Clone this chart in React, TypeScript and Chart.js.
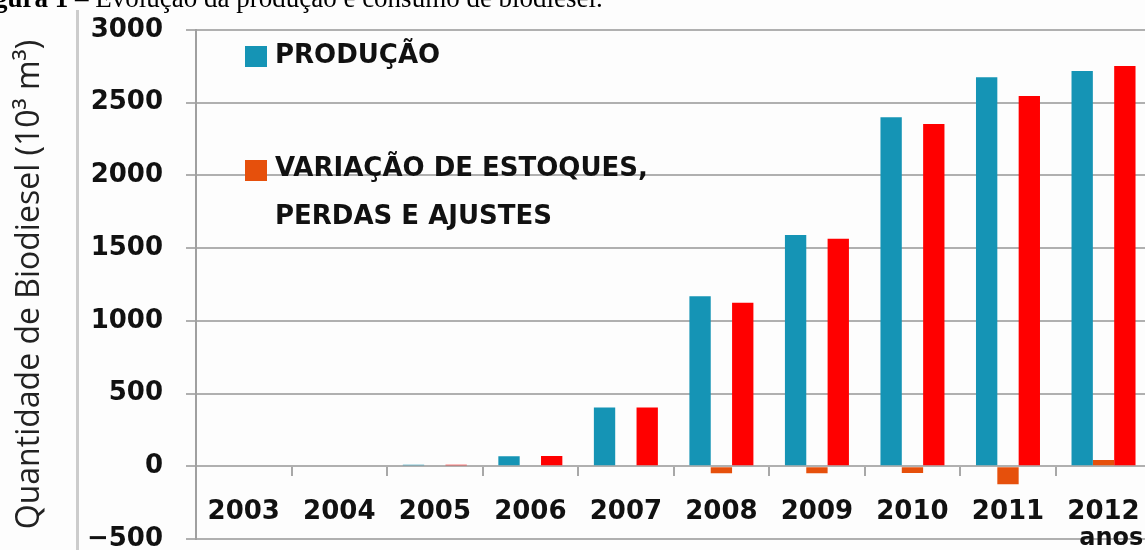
import React, { useEffect, useRef } from "react";
import { Chart, registerables } from "chart.js";

Chart.register(...registerables);

const years = ["2003", "2004", "2005", "2006", "2007", "2008", "2009", "2010", "2011", "2012"];
const producao = [0, 0, 10, 69, 404, 1170, 1590, 2400, 2675, 2718];
const variacao = [0, 0, 0, 0, 0, -48, -48, -46, -124, 43];
const consumo = [0, 0, 10, 70, 404, 1125, 1565, 2354, 2546, 2752];
const yMin = -500;
const yMax = 3000;
const yStep = 500;

const caption = "Figura 1";
const captionRest = " – Evolução da produção e consumo de biodiesel.";
const yTitle = "Quantidade de Biodiesel (10³ m³)";
const xUnit = "anos";

const colProd = "#1594b5";
const colVar = "#e6500c";
const colCons = "#ff0000";

const customLegend = {
  id: "customLegend",
  afterDatasetsDraw(chart: any) {
    const { ctx, chartArea } = chart;
    ctx.save();
    ctx.font = "bold 26px 'DejaVu Sans'";
    ctx.textAlign = "left";
    ctx.textBaseline = "alphabetic";
    const items = [
      { ds: 0, sqTop: 16, base: 33 },
      { ds: 1, sqTop: 130, base: 146 },
    ];
    items.forEach((it) => {
      const ds = chart.data.datasets[it.ds];
      const x0 = chartArea.left + 49;
      ctx.fillStyle = ds.backgroundColor;
      ctx.fillRect(x0, chartArea.top + it.sqTop, 22, 21);
      ctx.fillStyle = "#111";
      const lines = String(ds.label).split("\n");
      lines.forEach((ln: string, i: number) => {
        ctx.fillText(ln, x0 + 30, chartArea.top + it.base + i * 48);
      });
    });
    ctx.font = "bold 24px 'DejaVu Sans'";
    ctx.textAlign = "right";
    ctx.fillStyle = "#111";
    ctx.fillText(xUnit, chartArea.right - 8, chartArea.bottom + 6);
    ctx.restore();
  },
};

export default function App() {
  const ref = useRef<HTMLCanvasElement | null>(null);

  useEffect(() => {
    if (!ref.current) return;
    const chart = new Chart(ref.current, {
      type: "bar",
      data: {
        labels: years,
        datasets: [
          { label: "PRODUÇÃO", data: producao, backgroundColor: colProd },
          { label: "VARIAÇÃO DE ESTOQUES,\nPERDAS E AJUSTES", data: variacao, backgroundColor: colVar },
          { label: "CONSUMO", data: consumo, backgroundColor: colCons },
        ],
      },
      options: {
        responsive: false,
        animation: false,
        devicePixelRatio: 1,
        layout: { padding: { left: 0, right: 6, top: 30, bottom: 21 } },
        datasets: { bar: { barPercentage: 1, categoryPercentage: 0.67 } },
        plugins: {
          legend: { display: false },
          tooltip: { enabled: false },
          title: { display: false },
        },
        scales: {
          x: {
            position: { y: 0 } as any,
            offset: true,
            grid: {
              display: true,
              drawOnChartArea: false,
              drawTicks: true,
              tickLength: 10,
              color: "#a8a8a8",
              lineWidth: 2,
              offset: true,
            },
            border: { display: false },
            ticks: {
              font: { family: "'DejaVu Sans'", size: 26, weight: "bold" },
              color: "#111",
              padding: 20,
              maxRotation: 0,
              autoSkip: false,
            },
          },
          y: {
            min: yMin,
            max: yMax,
            ticks: {
              stepSize: yStep,
              font: { family: "'DejaVu Sans'", size: 26, weight: "bold" },
              color: "#111",
              padding: 23,
              callback: (v: any) => (Number(v) < 0 ? "−" + Math.abs(Number(v)) : String(v)),
            },
            grid: { color: "#b0b0b0", lineWidth: 2, tickLength: 10 },
            border: { display: true, color: "#a0a0a0", width: 2 },
            title: {
              display: true,
              text: yTitle,
              color: "#222",
              font: { family: "'Open Sans'", size: 32, weight: "normal" },
              padding: { top: 11, bottom: 0 },
            },
            afterFit(scale: any) {
              scale.width = 196;
              scale.paddingTop = 14;
              scale.paddingBottom = 14;
            },
          },
        },
      },
      plugins: [customLegend],
    });
    return () => chart.destroy();
  }, []);

  return (
    <div
      style={{
        position: "fixed",
        left: 0,
        top: 0,
        width: 1145,
        height: 550,
        overflow: "hidden",
        background: "#fdfdfd",
      }}
    >
      <canvas ref={ref} width={1160} height={560} style={{ position: "absolute", left: 0, top: 0 }} />
      <div
        style={{
          position: "absolute",
          left: 76,
          top: 10,
          width: 3,
          height: 540,
          background: "#cccccc",
        }}
      />
      <div
        style={{
          position: "absolute",
          left: -30,
          top: -15,
          whiteSpace: "nowrap",
          fontFamily: "'Liberation Serif', serif",
          fontSize: 27,
          lineHeight: "27px",
          color: "#000",
        }}
      >
        <b>{caption}</b>
        {captionRest}
      </div>
    </div>
  );
}
